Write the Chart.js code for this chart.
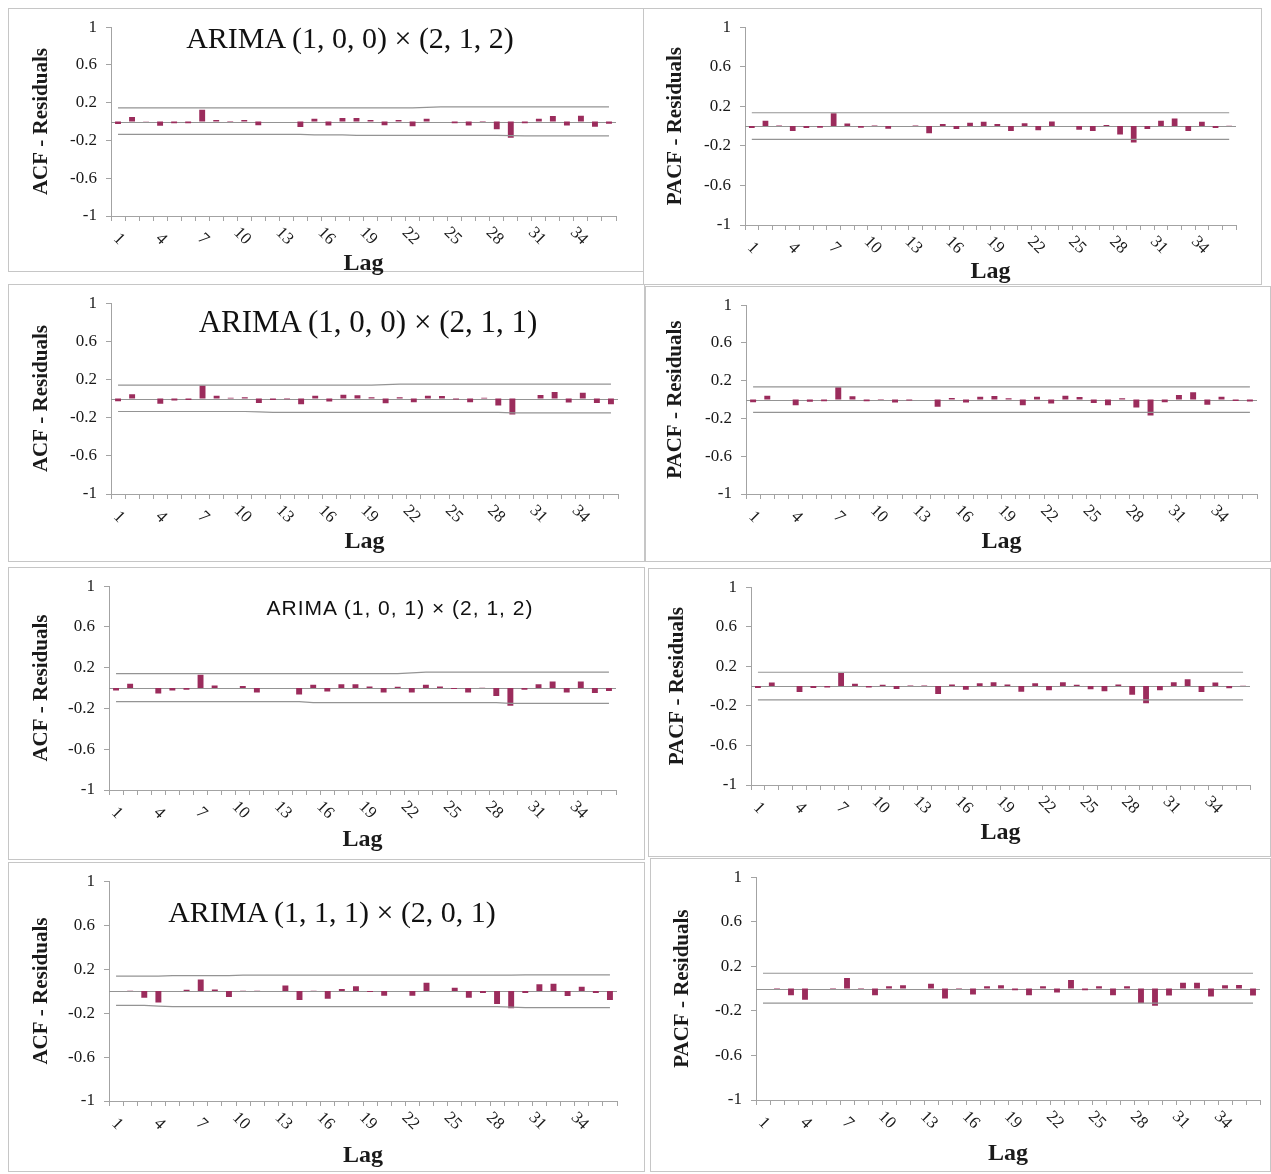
<!DOCTYPE html>
<html>
<head>
<meta charset="utf-8">
<script src="https://cdn.jsdelivr.net/npm/chart.js@4.4.1/dist/chart.umd.min.js"></script>
<style>
  body { margin: 0; background: #fff; width: 1271px; height: 1174px; position: relative; overflow: hidden; }
  .box { position: absolute; border: 1px solid #c6c6c6; box-sizing: border-box; }
  canvas { position: absolute; }
  .ttl { position: absolute; white-space: nowrap; transform: translate(-50%, -50%); color: #111; }
</style>
</head>
<body>
<script>
// lags 1..36 and the ones that get a label
const lags = [1, 2, 3, 4, 5, 6, 7, 8, 9, 10, 11, 12, 13, 14, 15, 16, 17, 18,
  19, 20, 21, 22, 23, 24, 25, 26, 27, 28, 29, 30, 31, 32, 33, 34, 35, 36];
const lagTicks = [1, 4, 7, 10, 13, 16, 19, 22, 25, 28, 31, 34];

// ARIMA (1,0,0)x(2,1,2)
const acf1 = [-0.025, 0.05, 0.003, -0.045, -0.017, -0.017, 0.125, 0.017, 0.007, 0.017, -0.038, 0, 0, -0.058, 0.03, -0.04, 0.038, 0.038,
  0.017, -0.038, 0.017, -0.048, 0.03, 0, -0.017, -0.04, 0.007, -0.08, -0.172, -0.017, 0.03, 0.058, -0.04, 0.062, -0.055, -0.024];
const acf1Upper = [0.145, 0.145, 0.145, 0.145, 0.145, 0.145, 0.145, 0.145, 0.145, 0.145, 0.145, 0.145, 0.145, 0.145, 0.145, 0.145, 0.145, 0.145,
  0.145, 0.145, 0.145, 0.145, 0.15, 0.155, 0.155, 0.155, 0.155, 0.155, 0.155, 0.155, 0.155, 0.155, 0.155, 0.155, 0.155, 0.155];
const acf1Lower = [-0.135, -0.135, -0.135, -0.135, -0.135, -0.135, -0.135, -0.135, -0.135, -0.135, -0.135, -0.135, -0.135, -0.135, -0.14, -0.14, -0.14, -0.145,
  -0.145, -0.145, -0.145, -0.145, -0.145, -0.145, -0.145, -0.145, -0.145, -0.145, -0.148, -0.152, -0.152, -0.152, -0.152, -0.152, -0.152, -0.152];
const pacf1 = [-0.02, 0.053, 0.005, -0.05, -0.02, -0.017, 0.13, 0.027, -0.017, 0.007, -0.027, 0, 0.005, -0.073, 0.02, -0.03, 0.033, 0.043,
  0.02, -0.05, 0.03, -0.043, 0.047, 0, -0.037, -0.05, 0.01, -0.086, -0.166, -0.03, 0.053, 0.076, -0.05, 0.043, -0.02, 0.003];
const pacf1Upper = [0.135, 0.135, 0.135, 0.135, 0.135, 0.135, 0.135, 0.135, 0.135, 0.135, 0.135, 0.135, 0.135, 0.135, 0.135, 0.135, 0.135, 0.135,
  0.135, 0.135, 0.135, 0.135, 0.135, 0.135, 0.135, 0.135, 0.135, 0.135, 0.135, 0.135, 0.135, 0.135, 0.135, 0.135, 0.135, 0.135];
const pacf1Lower = [-0.135, -0.135, -0.135, -0.135, -0.135, -0.135, -0.135, -0.135, -0.135, -0.135, -0.135, -0.135, -0.135, -0.135, -0.135, -0.135, -0.135, -0.135,
  -0.135, -0.135, -0.135, -0.135, -0.135, -0.135, -0.135, -0.135, -0.135, -0.135, -0.135, -0.135, -0.135, -0.135, -0.135, -0.135, -0.135, -0.135];

// ARIMA (1,0,0)x(2,1,1)
const acf2 = [-0.028, 0.045, 0, -0.055, -0.02, -0.014, 0.138, 0.031, 0.01, 0.014, -0.045, -0.014, -0.007, -0.059, 0.031, -0.031, 0.041, 0.035,
  0.014, -0.048, 0.014, -0.038, 0.031, 0.028, -0.01, -0.038, 0.01, -0.073, -0.166, 0, 0.038, 0.069, -0.041, 0.062, -0.045, -0.059];
const acf2Upper = [0.142, 0.142, 0.142, 0.142, 0.142, 0.142, 0.142, 0.142, 0.142, 0.142, 0.142, 0.142, 0.142, 0.142, 0.142, 0.142, 0.142, 0.142,
  0.142, 0.147, 0.152, 0.152, 0.152, 0.152, 0.152, 0.152, 0.152, 0.152, 0.152, 0.152, 0.152, 0.152, 0.152, 0.152, 0.152, 0.152];
const acf2Lower = [-0.135, -0.135, -0.135, -0.135, -0.135, -0.135, -0.135, -0.135, -0.135, -0.135, -0.14, -0.145, -0.145, -0.145, -0.145, -0.145, -0.145, -0.145,
  -0.145, -0.145, -0.145, -0.145, -0.145, -0.145, -0.145, -0.145, -0.145, -0.145, -0.15, -0.15, -0.15, -0.15, -0.15, -0.15, -0.15, -0.15];
const pacf2 = [-0.028, 0.041, 0, -0.059, -0.024, -0.017, 0.131, 0.035, -0.017, 0.007, -0.031, -0.01, 0, -0.076, 0.017, -0.031, 0.031, 0.038,
  0.014, -0.059, 0.031, -0.041, 0.041, 0.028, -0.035, -0.059, 0.014, -0.083, -0.169, -0.028, 0.048, 0.079, -0.055, 0.031, -0.014, -0.021];
const pacf2Upper = pacf1Upper;
const pacf2Lower = pacf1Lower;

// ARIMA (1,0,1)x(2,1,2)
const acf3 = [-0.023, 0.042, 0, -0.052, -0.023, -0.016, 0.13, 0.026, 0, 0.02, -0.042, 0, 0, -0.062, 0.033, -0.033, 0.039, 0.039,
  0.016, -0.042, 0.013, -0.042, 0.033, 0.016, -0.01, -0.042, 0.003, -0.078, -0.172, -0.016, 0.039, 0.065, -0.042, 0.065, -0.049, -0.029];
const acf3Upper = [0.143, 0.143, 0.143, 0.143, 0.143, 0.143, 0.143, 0.143, 0.143, 0.143, 0.143, 0.143, 0.143, 0.143, 0.143, 0.143, 0.143, 0.143,
  0.143, 0.143, 0.143, 0.15, 0.156, 0.156, 0.156, 0.156, 0.156, 0.156, 0.156, 0.156, 0.156, 0.156, 0.156, 0.156, 0.156, 0.156];
const acf3Lower = [-0.133, -0.133, -0.133, -0.133, -0.133, -0.133, -0.133, -0.133, -0.133, -0.133, -0.133, -0.133, -0.133, -0.133, -0.143, -0.143, -0.143, -0.143,
  -0.143, -0.143, -0.143, -0.143, -0.143, -0.143, -0.143, -0.143, -0.143, -0.143, -0.15, -0.15, -0.15, -0.15, -0.15, -0.15, -0.15, -0.15];
const pacf3 = [-0.02, 0.037, 0, -0.06, -0.02, -0.013, 0.133, 0.023, -0.013, 0.013, -0.03, 0.007, 0.007, -0.08, 0.017, -0.037, 0.03, 0.04,
  0.017, -0.057, 0.03, -0.043, 0.04, 0.013, -0.033, -0.053, 0.017, -0.087, -0.173, -0.043, 0.04, 0.07, -0.06, 0.037, -0.023, 0.003];
const pacf3Upper = [0.14, 0.14, 0.14, 0.14, 0.14, 0.14, 0.14, 0.14, 0.14, 0.14, 0.14, 0.14, 0.14, 0.14, 0.14, 0.14, 0.14, 0.14,
  0.14, 0.14, 0.14, 0.14, 0.14, 0.14, 0.14, 0.14, 0.14, 0.14, 0.14, 0.14, 0.14, 0.14, 0.14, 0.14, 0.14, 0.14];
const pacf3Lower = [-0.14, -0.14, -0.14, -0.14, -0.14, -0.14, -0.14, -0.14, -0.14, -0.14, -0.14, -0.14, -0.14, -0.14, -0.14, -0.14, -0.14, -0.14,
  -0.14, -0.14, -0.14, -0.14, -0.14, -0.14, -0.14, -0.14, -0.14, -0.14, -0.14, -0.14, -0.14, -0.14, -0.14, -0.14, -0.14, -0.14];

// ARIMA (1,1,1)x(2,0,1)
const acf4 = [0, 0.003, -0.06, -0.103, 0, 0.012, 0.106, 0.015, -0.054, 0.003, 0.003, 0, 0.051, -0.081, 0.003, -0.069, 0.018, 0.045,
  -0.009, -0.042, 0, -0.042, 0.075, 0, 0.03, -0.06, -0.018, -0.118, -0.157, -0.018, 0.063, 0.066, -0.045, 0.039, -0.018, -0.081];
const acf4Upper = [0.136, 0.136, 0.136, 0.136, 0.14, 0.14, 0.14, 0.14, 0.14, 0.145, 0.145, 0.145, 0.145, 0.145, 0.145, 0.145, 0.145, 0.145,
  0.145, 0.145, 0.145, 0.145, 0.145, 0.145, 0.145, 0.145, 0.145, 0.145, 0.145, 0.148, 0.148, 0.148, 0.148, 0.148, 0.148, 0.148];
const acf4Lower = [-0.13, -0.13, -0.13, -0.136, -0.142, -0.142, -0.142, -0.142, -0.142, -0.142, -0.142, -0.142, -0.142, -0.142, -0.142, -0.142, -0.142, -0.142,
  -0.142, -0.142, -0.142, -0.142, -0.142, -0.142, -0.142, -0.142, -0.142, -0.142, -0.146, -0.151, -0.151, -0.151, -0.151, -0.151, -0.151, -0.151];
const pacf4 = [0, 0.006, -0.059, -0.1, 0, 0.006, 0.095, 0.006, -0.059, 0.021, 0.03, 0, 0.044, -0.089, 0.006, -0.053, 0.021, 0.03,
  -0.015, -0.059, 0.021, -0.036, 0.077, -0.015, 0.021, -0.059, 0.021, -0.13, -0.154, -0.062, 0.053, 0.053, -0.071, 0.03, 0.033, -0.062];
const pacf4Upper = [0.138, 0.138, 0.138, 0.138, 0.138, 0.138, 0.138, 0.138, 0.138, 0.138, 0.138, 0.138, 0.138, 0.138, 0.138, 0.138, 0.138, 0.138,
  0.138, 0.138, 0.138, 0.138, 0.138, 0.138, 0.138, 0.138, 0.138, 0.138, 0.138, 0.138, 0.138, 0.138, 0.138, 0.138, 0.138, 0.138];
const pacf4Lower = [-0.13, -0.13, -0.13, -0.13, -0.13, -0.13, -0.13, -0.13, -0.13, -0.13, -0.13, -0.13, -0.13, -0.13, -0.13, -0.13, -0.13, -0.13,
  -0.13, -0.13, -0.13, -0.13, -0.13, -0.13, -0.13, -0.13, -0.13, -0.13, -0.13, -0.13, -0.13, -0.13, -0.13, -0.13, -0.13, -0.13];

const BAR = '#9b2c5c';
const BAND = '#949494';
const AXIS = '#a3a3a3';
const TXT = '#1a1a1a';
const SERIF = '"Liberation Serif", "Times New Roman", serif';
const Y_TITLE = 21;
const X_TITLE = 24;

// page layout: box = frame, plot = chart area, titles in page pixels
const panels = [
  { values: acf1, upper: acf1Upper, lower: acf1Lower, yTitle: 'ACF - Residuals',
    box: [8, 8, 636, 264], plot: [111, 23, 616, 216], yTitleX: 42, xTitleY: 264,
    title: { text: 'ARIMA (1, 0, 0) × (2, 1, 2)', x: 350, y: 38, font: '30px ' + SERIF } },
  { values: pacf1, upper: pacf1Upper, lower: pacf1Lower, yTitle: 'PACF - Residuals',
    box: [643, 8, 619, 277], plot: [745, 24, 1236, 225], yTitleX: 676, xTitleY: 272 },
  { values: acf2, upper: acf2Upper, lower: acf2Lower, yTitle: 'ACF - Residuals',
    box: [8, 284, 637, 278], plot: [111, 301, 618, 494], yTitleX: 42, xTitleY: 542,
    title: { text: 'ARIMA (1, 0, 0) × (2, 1, 1)', x: 368, y: 322, font: '31px ' + SERIF } },
  { values: pacf2, upper: pacf2Upper, lower: pacf2Lower, yTitle: 'PACF - Residuals',
    box: [645, 286, 626, 276], plot: [746, 302, 1257, 494], yTitleX: 676, xTitleY: 542 },
  { values: acf3, upper: acf3Upper, lower: acf3Lower, yTitle: 'ACF - Residuals',
    box: [8, 567, 637, 293], plot: [109, 585, 616, 790], yTitleX: 42, xTitleY: 840,
    title: { text: 'ARIMA (1, 0, 1) × (2, 1, 2)', x: 400, y: 608, font: '21px "Liberation Sans", Arial, sans-serif', spacing: '1px' } },
  { values: pacf3, upper: pacf3Upper, lower: pacf3Lower, yTitle: 'PACF - Residuals',
    box: [648, 568, 623, 289], plot: [751, 585, 1250, 785], yTitleX: 678, xTitleY: 833 },
  { values: acf4, upper: acf4Upper, lower: acf4Lower, yTitle: 'ACF - Residuals',
    box: [8, 862, 637, 310], plot: [109, 880, 617, 1101], yTitleX: 42, xTitleY: 1156,
    title: { text: 'ARIMA (1, 1, 1) × (2, 0, 1)', x: 332, y: 912, font: '30px ' + SERIF } },
  { values: pacf4, upper: pacf4Upper, lower: pacf4Lower, yTitle: 'PACF - Residuals',
    box: [650, 858, 621, 314], plot: [756, 875, 1260, 1100], yTitleX: 683, xTitleY: 1154 }
];

// grey line at zero across the whole plot
const zeroLine = {
  id: 'zeroLine',
  beforeDatasetsDraw(chart) {
    const { ctx, chartArea, scales } = chart;
    const y = Math.round(scales.y.getPixelForValue(0)) + 0.5;
    ctx.save();
    ctx.strokeStyle = BAND;
    ctx.lineWidth = 1;
    ctx.beginPath();
    ctx.moveTo(chartArea.left, y);
    ctx.lineTo(chartArea.right, y);
    ctx.stroke();
    ctx.restore();
  }
};

// lag labels slanted down to the right, every third lag
const slantLabels = {
  id: 'slantLabels',
  afterDraw(chart) {
    const { ctx, scales } = chart;
    const xs = scales.x;
    ctx.save();
    ctx.font = '17px ' + SERIF;
    ctx.fillStyle = TXT;
    ctx.textAlign = 'right';
    ctx.textBaseline = 'middle';
    lags.forEach((lag, i) => {
      if (!lagTicks.includes(lag)) return;
      ctx.save();
      ctx.translate(xs.getPixelForValue(i) + 4, xs.top + 26);
      ctx.rotate(Math.PI / 4);
      ctx.fillText(String(lag), 0, 0);
      ctx.restore();
    });
    ctx.restore();
  }
};

function fmt(v) {
  const r = Math.round(v * 10) / 10;
  return r === 0 ? '0' : String(r);
}

panels.forEach(p => {
  const [bx, by, bw, bh] = p.box;
  const [l, t, r, b] = p.plot;

  const frame = document.createElement('div');
  frame.className = 'box';
  Object.assign(frame.style, { left: bx + 'px', top: by + 'px', width: bw + 'px', height: bh + 'px' });
  document.body.appendChild(frame);

  const cw = bw, ch = bh + 14;
  const canvas = document.createElement('canvas');
  canvas.width = cw;
  canvas.height = ch;
  Object.assign(canvas.style, { left: bx + 'px', top: by + 'px', width: cw + 'px', height: ch + 'px' });
  document.body.appendChild(canvas);

  const yFont = { family: SERIF, size: Y_TITLE, weight: 'bold', lineHeight: 1.2 };
  const xFont = { family: SERIF, size: X_TITLE, weight: 'bold', lineHeight: 1.2 };

  new Chart(canvas, {
    type: 'bar',
    data: {
      labels: lags,
      datasets: [
        { type: 'bar', data: p.values, backgroundColor: BAR, barPercentage: 0.42, categoryPercentage: 1, order: 2 },
        { type: 'line', data: p.upper, borderColor: BAND, borderWidth: 1.2, pointRadius: 0, fill: false, order: 1 },
        { type: 'line', data: p.lower, borderColor: BAND, borderWidth: 1.2, pointRadius: 0, fill: false, order: 1 }
      ]
    },
    options: {
      responsive: false,
      animation: false,
      devicePixelRatio: 1,
      layout: { padding: { left: 0, top: t - by, right: bx + cw - r, bottom: 0 } },
      plugins: { legend: { display: false }, tooltip: { enabled: false } },
      scales: {
        x: {
          offset: true,
          grid: { offset: true, drawOnChartArea: false, drawTicks: true, tickLength: 5, color: AXIS },
          border: { color: AXIS },
          ticks: { display: false },
          title: { display: true, text: 'Lag', color: TXT, font: xFont,
            padding: { top: 0, bottom: by + ch - p.xTitleY - X_TITLE * 1.2 / 2 } },
          afterFit(s) { s.height = by + ch - b; }
        },
        y: {
          min: -1,
          max: 1,
          ticks: { stepSize: 0.4, callback: v => fmt(v), color: TXT, padding: 9, font: { family: SERIF, size: 17 } },
          grid: { drawOnChartArea: false, tickLength: 5, color: AXIS },
          border: { color: AXIS },
          title: { display: true, text: p.yTitle, color: TXT, font: yFont,
            padding: { top: p.yTitleX - bx - Y_TITLE * 1.2 / 2, bottom: 0 } },
          afterFit(s) { s.width = l - bx; }
        }
      }
    },
    plugins: [zeroLine, slantLabels]
  });

  if (p.title) {
    const d = document.createElement('div');
    d.className = 'ttl';
    d.textContent = p.title.text;
    Object.assign(d.style, { left: p.title.x + 'px', top: p.title.y + 'px', font: p.title.font });
    if (p.title.spacing) d.style.letterSpacing = p.title.spacing;
    document.body.appendChild(d);
  }
});
</script>
</body>
</html>
